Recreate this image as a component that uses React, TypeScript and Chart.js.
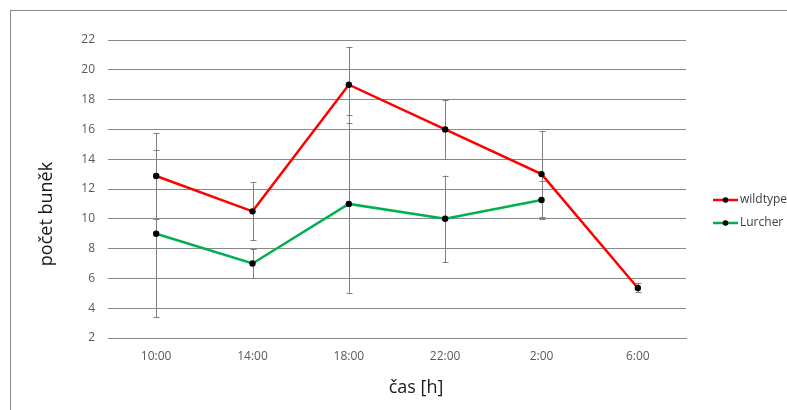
import React, { useEffect, useRef } from "react";
import { Chart, registerables } from "chart.js";

Chart.register(...registerables);

const categories = ["10:00", "14:00", "18:00", "22:00", "2:00", "6:00"];
const wildtype = [12.87, 10.5, 19, 16, 13, 5.36];
const wildtypeErr = [2.9, 1.95, 2.55, 2, 2.9, 0.3];
const lurcher = [9, 7, 11, 10, 11.26, null];
const lurcherErr = [5.6, 1, 6, 2.9, 1.3, null];
const yTicks = [2, 4, 6, 8, 10, 12, 14, 16, 18, 20, 22];
const seriesNames = ["wildtype", "Lurcher"];
const seriesColors = ["#ff0000", "#00b050"];
const errors = [wildtypeErr, lurcherErr];
const xTitle = "čas [h]";
const yTitle = "počet buněk";

const FONT = "'Open Sans', 'Noto Sans', sans-serif";

const errorBarPlugin = {
  id: "errorBars",
  beforeDatasetsDraw(chart: any) {
    const { ctx, scales } = chart;
    const x = scales.x;
    const y = scales.y;
    ctx.save();
    ctx.strokeStyle = "#808080";
    ctx.lineWidth = 1;
    chart.data.datasets.forEach((ds: any, di: number) => {
      const errs = errors[di];
      ds.data.forEach((v: number | null, i: number) => {
        const e = errs[i];
        if (v == null || e == null) return;
        const px = Math.round(x.getPixelForValue(i)) + 0.5;
        const top = y.getPixelForValue(v + e);
        const bot = y.getPixelForValue(v - e);
        ctx.beginPath();
        ctx.moveTo(px, top);
        ctx.lineTo(px, bot);
        ctx.moveTo(px - 3, Math.round(top) + 0.5);
        ctx.lineTo(px + 3, Math.round(top) + 0.5);
        ctx.moveTo(px - 3, Math.round(bot) + 0.5);
        ctx.lineTo(px + 3, Math.round(bot) + 0.5);
        ctx.stroke();
      });
    });
    ctx.restore();
  },
};

const titlesAndLegendPlugin = {
  id: "titlesLegend",
  afterDraw(chart: any) {
    const { ctx } = chart;
    ctx.save();
    // axis titles
    ctx.fillStyle = "#1a1a1a";
    ctx.font = `18px ${FONT}`;
    ctx.textAlign = "center";
    ctx.textBaseline = "middle";
    ctx.fillText(xTitle, 416, 388);
    ctx.save();
    ctx.translate(47, 214);
    ctx.rotate(-Math.PI / 2);
    ctx.fillText(yTitle, 0, 0);
    ctx.restore();
    // legend
    const x0 = 713;
    const ys = [200, 223];
    seriesNames.forEach((name, i) => {
      const yy = ys[i];
      ctx.strokeStyle = seriesColors[i];
      ctx.lineWidth = 2.5;
      ctx.beginPath();
      ctx.moveTo(x0, yy);
      ctx.lineTo(x0 + 25, yy);
      ctx.stroke();
      ctx.fillStyle = "#000";
      ctx.beginPath();
      ctx.arc(x0 + 12.5, yy, 2.8, 0, Math.PI * 2);
      ctx.fill();
      ctx.fillStyle = "#404040";
      ctx.font = `12px ${FONT}`;
      ctx.textBaseline = "middle";
      ctx.textAlign = "left";
      ctx.fillText(name, x0 + 27, yy);
    });
    ctx.restore();
  },
};

export default function App() {
  const ref = useRef<HTMLCanvasElement>(null);
  useEffect(() => {
    if (!ref.current) return;
    const chart = new Chart(ref.current, {
      type: "line",
      data: {
        labels: categories,
        datasets: [
          {
            label: seriesNames[0],
            data: wildtype,
            borderColor: seriesColors[0],
            backgroundColor: "#000",
            borderWidth: 2.5,
            pointBackgroundColor: "#000",
            pointBorderWidth: 0,
            pointRadius: 3.2,
            tension: 0,
          },
          {
            label: seriesNames[1],
            data: lurcher,
            borderColor: seriesColors[1],
            backgroundColor: "#000",
            borderWidth: 2.5,
            pointBackgroundColor: "#000",
            pointBorderWidth: 0,
            pointRadius: 3.2,
            tension: 0,
            spanGaps: false,
          },
        ],
      },
      options: {
        responsive: false,
        animation: false,
        layout: { padding: { top: 40, right: 101, left: 0, bottom: 0 } },
        plugins: {
          legend: { display: false },
          tooltip: { enabled: false },
        },
        scales: {
          x: {
            offset: true,
            grid: { display: false, drawTicks: false },
            border: { display: true, color: "#888", width: 1 },
            ticks: {
              padding: 11,
              color: "#595959",
              font: { family: FONT, size: 12 },
              maxRotation: 0,
            },
            afterFit: (s: any) => {
              s.height = 72;
            },
          },
          y: {
            min: 2,
            max: 22,
            afterBuildTicks: (s: any) => {
              s.ticks = yTicks.map((v) => ({ value: v }));
            },
            grid: { color: "#888", lineWidth: 1, drawTicks: false },
            border: { display: false },
            ticks: {
              padding: 13,
              color: "#595959",
              font: { family: FONT, size: 12 },
            },
            afterFit: (s: any) => {
              s.width = 108;
            },
          },
        },
      },
      plugins: [errorBarPlugin, titlesAndLegendPlugin],
    });
    return () => chart.destroy();
  }, []);

  return (
    <div
      style={{
        position: "fixed",
        left: 0,
        top: 0,
        width: 787,
        height: 410,
        overflow: "hidden",
        background: "#fff",
      }}
    >
      <div
        style={{
          position: "absolute",
          left: 10,
          top: 10,
          width: 800,
          height: 420,
          borderTop: "1px solid #8c8c8c",
          borderLeft: "1px solid #8c8c8c",
        }}
      />
      <canvas
        ref={ref}
        width={787}
        height={410}
        style={{ position: "absolute", left: 0, top: 0 }}
      />
    </div>
  );
}
